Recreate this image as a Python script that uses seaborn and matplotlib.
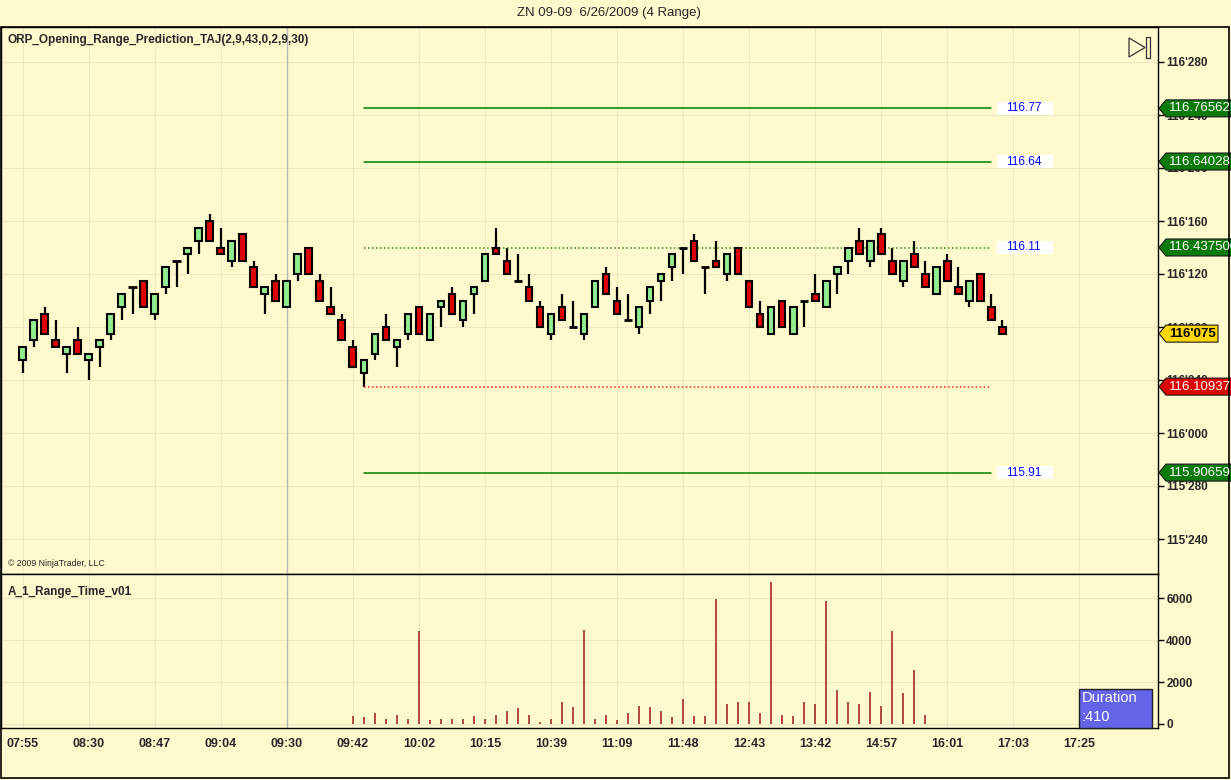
import numpy as np
import pandas as pd
import matplotlib
matplotlib.use("Agg")
import matplotlib.pyplot as plt
import matplotlib.patches as mpatches
import seaborn as sns

# ZN 09-09, 4 range bars (prices in points, tick = 1/64)
opens = [116.171875, 116.21875, 116.28125, 116.21875, 116.1875, 116.21875, 116.171875, 116.203125, 116.234375, 116.296875,
         116.34375, 116.359375, 116.28125, 116.34375, 116.40625, 116.421875, 116.453125, 116.5, 116.4375, 116.40625,
         116.46875, 116.390625, 116.328125, 116.359375, 116.296875, 116.375, 116.4375, 116.359375, 116.296875, 116.265625,
         116.203125, 116.140625, 116.1875, 116.25, 116.203125, 116.234375, 116.296875, 116.21875, 116.296875, 116.328125,
         116.265625, 116.328125, 116.359375, 116.4375, 116.40625, 116.359375, 116.34375, 116.296875, 116.234375, 116.296875,
         116.25, 116.234375, 116.296875, 116.375, 116.3125, 116.265625, 116.25, 116.3125, 116.359375, 116.390625,
         116.4375, 116.453125, 116.390625, 116.40625, 116.375, 116.4375, 116.359375, 116.28125, 116.234375, 116.3125,
         116.234375, 116.3125, 116.328125, 116.296875, 116.375, 116.40625, 116.453125, 116.40625, 116.46875, 116.40625,
         116.359375, 116.421875, 116.375, 116.328125, 116.40625, 116.34375, 116.3125, 116.375, 116.296875, 116.25]
highs = [116.203125, 116.265625, 116.296875, 116.265625, 116.203125, 116.25, 116.1875, 116.21875, 116.28125, 116.328125,
         116.34375, 116.359375, 116.328125, 116.390625, 116.40625, 116.4375, 116.484375, 116.515625, 116.484375, 116.453125,
         116.46875, 116.40625, 116.34375, 116.375, 116.359375, 116.421875, 116.4375, 116.375, 116.34375, 116.28125,
         116.21875, 116.171875, 116.234375, 116.28125, 116.21875, 116.28125, 116.296875, 116.28125, 116.3125, 116.34375,
         116.3125, 116.34375, 116.421875, 116.484375, 116.4375, 116.421875, 116.375, 116.3125, 116.28125, 116.328125,
         116.3125, 116.28125, 116.359375, 116.390625, 116.34375, 116.328125, 116.296875, 116.34375, 116.375, 116.421875,
         116.4375, 116.46875, 116.390625, 116.453125, 116.421875, 116.4375, 116.359375, 116.3125, 116.296875, 116.3125,
         116.296875, 116.3125, 116.375, 116.359375, 116.390625, 116.4375, 116.484375, 116.453125, 116.484375, 116.4375,
         116.40625, 116.453125, 116.40625, 116.390625, 116.421875, 116.390625, 116.359375, 116.375, 116.328125, 116.265625]
lows = [116.140625, 116.203125, 116.234375, 116.203125, 116.140625, 116.1875, 116.125, 116.15625, 116.21875, 116.265625,
        116.28125, 116.296875, 116.265625, 116.328125, 116.34375, 116.375, 116.421875, 116.453125, 116.421875, 116.390625,
        116.40625, 116.34375, 116.28125, 116.3125, 116.296875, 116.359375, 116.375, 116.3125, 116.28125, 116.21875,
        116.15625, 116.109375, 116.171875, 116.21875, 116.15625, 116.21875, 116.234375, 116.21875, 116.25, 116.28125,
        116.25, 116.28125, 116.359375, 116.421875, 116.375, 116.359375, 116.3125, 116.25, 116.21875, 116.265625,
        116.25, 116.21875, 116.296875, 116.328125, 116.28125, 116.265625, 116.234375, 116.28125, 116.3125, 116.359375,
        116.375, 116.40625, 116.328125, 116.390625, 116.359375, 116.375, 116.296875, 116.25, 116.234375, 116.25,
        116.234375, 116.25, 116.3125, 116.296875, 116.328125, 116.375, 116.421875, 116.390625, 116.421875, 116.375,
        116.34375, 116.390625, 116.34375, 116.328125, 116.359375, 116.328125, 116.296875, 116.3125, 116.265625, 116.234375]
closes = [116.203125, 116.265625, 116.234375, 116.203125, 116.203125, 116.1875, 116.1875, 116.21875, 116.28125, 116.328125,
          116.34375, 116.296875, 116.328125, 116.390625, 116.40625, 116.4375, 116.484375, 116.453125, 116.421875, 116.453125,
          116.40625, 116.34375, 116.34375, 116.3125, 116.359375, 116.421875, 116.375, 116.3125, 116.28125, 116.21875,
          116.15625, 116.171875, 116.234375, 116.21875, 116.21875, 116.28125, 116.234375, 116.28125, 116.3125, 116.28125,
          116.3125, 116.34375, 116.421875, 116.421875, 116.375, 116.359375, 116.3125, 116.25, 116.28125, 116.265625,
          116.25, 116.28125, 116.359375, 116.328125, 116.28125, 116.265625, 116.296875, 116.34375, 116.375, 116.421875,
          116.4375, 116.40625, 116.390625, 116.390625, 116.421875, 116.375, 116.296875, 116.25, 116.296875, 116.25,
          116.296875, 116.3125, 116.3125, 116.359375, 116.390625, 116.4375, 116.421875, 116.453125, 116.421875, 116.375,
          116.40625, 116.390625, 116.34375, 116.390625, 116.359375, 116.328125, 116.359375, 116.3125, 116.265625, 116.234375]

time_labels = ["07:55", "08:30", "08:47", "09:04", "09:30", "09:42", "10:02", "10:15", "10:39",
               "11:09", "11:48", "12:43", "13:42", "14:57", "16:01", "17:03", "17:25"]
label_step = 6
session_bar = 24

# A_1_Range_Time_v01 (seconds per bar), starts at bar 30
duration_start = 30
durations = [400, 350, 540, 255, 450, 255, 4440, 210, 255, 255,
             255, 400, 255, 450, 640, 785, 450, 110, 255, 1070,
             830, 4490, 255, 450, 210, 500, 865, 830, 640, 350,
             1170, 400, 400, 5980, 930, 1070, 1025, 540, 6745, 450,
             400, 1070, 975, 5880, 1600, 1070, 930, 1505, 865, 4440,
             1457, 2565, 450]

# ORP levels
level_values = [116.765625, 116.64028, 116.4375, 116.109375, 115.90659]
level_labels = ["116.77", "116.64", "116.11", "", "115.91"]
level_tags = ["116.765625", "116.64028", "116.437500", "116.109375", "115.90659"]
level_colors = ["#008000", "#008000", "#1a9a1a", "#ff2020", "#008000"]
level_styles = ["-", "-", (0, (1, 1.6)), (0, (1, 1.6)), "-"]
level_tag_colors = ["#0a7a0a", "#0a7a0a", "#0a7a0a", "#dd0000", "#0a7a0a"]
level_start, level_end = 31, 88
last_price = 116.234375

W, H = 1231, 780
bg = "#fffacd"
grid_c = "#efe8c4"

sns.set_style("white")
plt.rcParams["font.family"] = ["Liberation Sans", "DejaVu Sans"]

df = pd.DataFrame({"o": opens, "h": highs, "l": lows, "c": closes})
df["x"] = np.arange(len(df))

fig = plt.figure(figsize=(W / 100, H / 100), dpi=100, facecolor=bg)
ax = fig.add_axes([1 / W, 1 - 574 / H, 1157 / W, 547 / H], facecolor=bg)
ax2 = fig.add_axes([1 / W, 1 - 728 / H, 1157 / W, 154 / H], facecolor=bg)

x_lo, x_hi = (1 - 22.5) / 11.01, (1158 - 22.5) / 11.01
ax.set_xlim(x_lo, x_hi)
ax2.set_xlim(x_lo, x_hi)
ax.set_ylim(116.875 - (574 - 62) / 424, 116.875 + 35 / 424)
ax2.set_ylim(-192, 7150)

xt = np.arange(len(time_labels)) * label_step

# price panel
ax.set_axisbelow(True)
ax.set_xticks(xt)
ax.tick_params(axis="x", length=0, labelbottom=False)
ax.yaxis.tick_right()
pticks = np.arange(115.75, 116.876, 0.125)
ax.set_yticks(pticks)


def fmt32(p):
    whole = int(np.floor(p + 1e-9))
    return f"{whole}'{int(round((p - whole) * 320)):03d}"


ax.set_yticklabels([fmt32(p) for p in pticks], fontsize=8.5, fontweight="bold")
ax.tick_params(axis="y", length=4, width=1, color="black", pad=2)
ax.grid(True, color=grid_c, lw=0.8)
ax.axvline(session_bar, color="#b8b8b8", lw=1, zorder=1)

# wicks and bodies
ax.vlines(df["x"], df["l"], df["h"], color="black", lw=1.6, zorder=2)
up = df[df["c"] > df["o"]]
dn = df[df["c"] < df["o"]]
flat = df[df["c"] == df["o"]]
ax.bar(up["x"], up["c"] - up["o"], bottom=up["o"], width=0.6, color="#90ee90",
       edgecolor="black", lw=1.5, zorder=3)
ax.bar(dn["x"], dn["o"] - dn["c"], bottom=dn["c"], width=0.6, color="#e00000",
       edgecolor="black", lw=1.5, zorder=3)
ax.hlines(flat["o"], flat["x"] - 0.38, flat["x"] + 0.38, color="black", lw=2, zorder=3)

# ORP levels
for v, lab, col, ls in zip(level_values, level_labels, level_colors, level_styles):
    sns.lineplot(x=[level_start, level_end], y=[v, v], ax=ax, color=col, lw=1.1, linestyle=ls, zorder=2)
    if lab:
        ax.add_patch(mpatches.Rectangle((88.5, v - 0.0145), 5.1, 0.029, facecolor="white",
                                        edgecolor="none", zorder=2))
        ax.text(89.3, v, lab, color="#0000ff", fontsize=8.5, va="center", ha="left", zorder=3)

for sp in ax.spines.values():
    sp.set_color("black")
    sp.set_linewidth(1)

ax.text(7 / 1157, 1 - 13 / 547, "ORP_Opening_Range_Prediction_TAJ(2,9,43,0,2,9,30)", transform=ax.transAxes,
        fontsize=8.5, fontweight="bold", va="center", ha="left")
ax.text(7 / 1157, 10 / 547, "\u00a9 2009 NinjaTrader, LLC", transform=ax.transAxes,
        fontsize=6.3, va="center", ha="left")

# duration panel
ax2.set_axisbelow(True)
bx = np.arange(duration_start, duration_start + len(durations))
ax2.vlines(bx, 0, durations, color="#a52a2a", lw=1.2, zorder=2)
ax2.axvline(session_bar, color="#b8b8b8", lw=1, zorder=1)
ax2.set_xticks(xt)
ax2.set_xticklabels(time_labels, fontsize=9, fontweight="bold")
ax2.tick_params(axis="x", length=5, width=1, color="black", pad=2)
ax2.yaxis.tick_right()
ax2.set_yticks([0, 2000, 4000, 6000])
ax2.set_yticklabels(["0", "2000", "4000", "6000"], fontsize=8.5, fontweight="bold")
ax2.tick_params(axis="y", length=4, width=1, color="black", pad=2)
ax2.grid(True, color=grid_c, lw=0.8)
for sp in ax2.spines.values():
    sp.set_color("black")
    sp.set_linewidth(1)
ax2.text(7 / 1157, 1 - 18 / 154, "A_1_Range_Time_v01", transform=ax2.transAxes,
         fontsize=8.5, fontweight="bold", va="center", ha="left")


def fpx(px, py):
    return px / W, 1 - py / H


# duration box
fig.add_artist(mpatches.Rectangle(fpx(1079, 728), 73 / W, 39 / H, transform=fig.transFigure,
                                  facecolor="#6464e8", edgecolor="#202020", lw=1))
fig.text(*fpx(1082, 698), "Duration", color="white", fontsize=10.5, va="center", ha="left")
fig.text(*fpx(1082, 717), ":410", color="white", fontsize=10.5, va="center", ha="left")


# price tags on the right axis
def add_tag(price, text, face, tc, right, weight):
    y = ax.transData.transform((0, price))[1]
    pts = [(1159, y), (1166, y + 8.5), (right, y + 8.5), (right, y - 8.5), (1166, y - 8.5)]
    fig.add_artist(mpatches.Polygon([(px / W, py / H) for px, py in pts], closed=True,
                                    transform=fig.transFigure, facecolor=face,
                                    edgecolor="#1a1a1a", lw=0.8))
    fig.text(1169 / W, y / H, text, color=tc, fontsize=9.5, va="center", ha="left",
             fontweight=weight, zorder=5)


for v, t, c in zip(level_values, level_tags, level_tag_colors):
    add_tag(v, t, c, "white", 1245, "normal")
add_tag(last_price, fmt32(last_price), "#ffd700", "black", 1218, "bold")

# replay icon
fig.add_artist(mpatches.Polygon([fpx(1129, 38), fpx(1129, 57), fpx(1145, 47.5)], closed=True,
                                transform=fig.transFigure, facecolor="none", edgecolor="#333333", lw=0.9))
fig.add_artist(mpatches.Rectangle(fpx(1146, 58), 4 / W, 21 / H, transform=fig.transFigure,
                                  facecolor="none", edgecolor="#333333", lw=0.9))

# outer frame and title
fig.add_artist(mpatches.Rectangle(fpx(1, 778), 1228 / W, 751 / H, transform=fig.transFigure,
                                  facecolor="none", edgecolor="black", lw=1.2))
fig.text(*fpx(609, 13), "ZN 09-09  6/26/2009 (4 Range)", fontsize=9.5, ha="center", va="center")

fig.savefig("out.png", dpi=100, facecolor=bg)
